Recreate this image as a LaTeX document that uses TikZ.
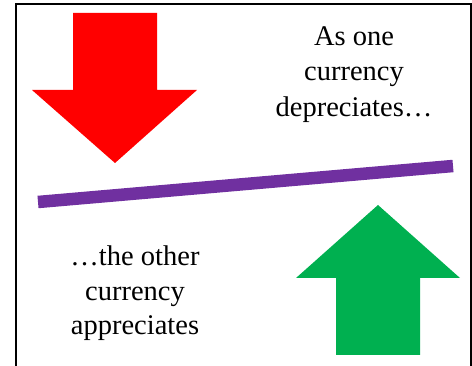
\documentclass[tikz,border=0pt]{standalone}
\usepackage{fontspec}
\setmainfont{Liberation Serif}

\definecolor{upgreen}{HTML}{00B050}
\definecolor{barpurple}{HTML}{7030A0}

\begin{document}
\begin{tikzpicture}[x=1pt,y=-1pt]
\useasboundingbox (0,0) rectangle (472,366);

\draw[line width=2pt] (15.5,367)--(15.5,4.5)--(470.8,4.5)--(470.8,367);

\fill[red] (73,13)--(157,13)--(157,90)--(197,90)--(115,163)--(32,90)--(73,90)--cycle;

\fill[upgreen] (336,355)--(420,355)--(420,278)--(460,278)--(378,205)--(296,278)--(336,278)--cycle;

\coordinate (barL) at (38,202);
\coordinate (barR) at (453,166);
\draw[barpurple,line width=12.5pt] (barL)--(barR);

\node[anchor=base,align=center,font=\fontsize{28.5}{35.5}\selectfont,inner sep=0pt]
  (dep) at (354,116.5) {As one\\currency\\depreciates\ldots};
\node[anchor=base,align=center,font=\fontsize{28.5}{34.5}\selectfont,inner sep=0pt]
  (app) at (135,335) {\ldots the other\\currency\\appreciates};
\end{tikzpicture}
\end{document}
